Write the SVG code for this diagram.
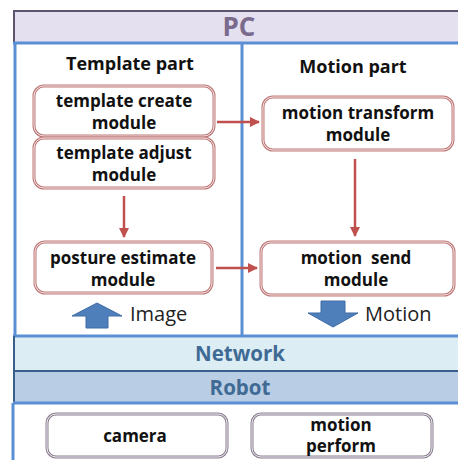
<svg xmlns="http://www.w3.org/2000/svg" width="458" height="460" viewBox="0 0 458 460">
  <style>
    text { font-family: "Open Sans", "DejaVu Sans", sans-serif; font-weight: bold; text-anchor: middle; }
    .mod { font-size: 17px; fill: #111; }
    .title { font-size: 18px; fill: #111; }
    .band { font-size: 20.5px; fill: #3f6a94; }
    .lbl { font-size: 20px; font-weight: normal; fill: #222; text-anchor: start; }
    .box-out { fill: #fff; stroke: #bf7a7a; stroke-width: 3; }
    .box-in { fill: none; stroke: #f6e2e2; stroke-width: 1; }
    .rb-out { fill: #fff; stroke: #8a7f90; stroke-width: 3; }
    .rb-in { fill: none; stroke: #f2eff4; stroke-width: 1; }
    .conn { stroke: #c0504d; stroke-width: 2.5; fill: none; }
    .blk { fill: #4f7fba; stroke: #3e6ca6; stroke-width: 1; }
  </style>
  <defs>
    <marker id="ah" viewBox="0 0 10 10" refX="9" refY="5" markerWidth="4" markerHeight="4" orient="auto">
      <path d="M0,0 L10,5 L0,10 z" fill="#c0504d"/>
    </marker>
  </defs>

  <rect width="458" height="460" fill="#fff"/>

  <!-- PC header -->
  <g id="pc">
    <rect x="13" y="10" width="460" height="33" fill="#e4e0ef"/>
    <line x1="13" y1="11" x2="458" y2="11" stroke="#5c536c" stroke-width="2"/>
    <line x1="14" y1="10" x2="14" y2="43" stroke="#5c536c" stroke-width="2"/>
    <line x1="13" y1="43" x2="458" y2="43" stroke="#5b8fd4" stroke-width="3"/>
    <text x="239" y="36" font-size="26" fill="#7a6b8c">PC</text>
  </g>

  <!-- PC body frame -->
  <g id="pc-frame">
    <line x1="15" y1="43" x2="15" y2="336" stroke="#5b8fd4" stroke-width="3"/>
    <line x1="242" y1="43" x2="242" y2="336" stroke="#5b8fd4" stroke-width="3"/>
    <text class="title" x="130" y="70">Template part</text>
    <text class="title" x="353" y="73">Motion part</text>
  </g>

  <!-- Network band -->
  <g id="network">
    <rect x="13" y="335" width="460" height="36" fill="#dcedf4"/>
    <line x1="13" y1="336" x2="458" y2="336" stroke="#5b8fd4" stroke-width="3"/>
    <line x1="14" y1="336" x2="14" y2="372" stroke="#3a5e8c" stroke-width="2"/>
    <line x1="13" y1="371" x2="458" y2="371" stroke="#3a5e8c" stroke-width="2"/>
    <text class="band" x="240" y="361">Network</text>
  </g>

  <!-- Robot band -->
  <g id="robot">
    <rect x="13" y="372" width="460" height="31" fill="#b9cde4"/>
    <line x1="14" y1="372" x2="14" y2="403" stroke="#3a5e8c" stroke-width="2"/>
    <line x1="13" y1="403" x2="458" y2="403" stroke="#5b8fd4" stroke-width="3"/>
    <line x1="13" y1="403" x2="13" y2="460" stroke="#5b8fd4" stroke-width="3"/>
    <text class="band" x="240" y="395">Robot</text>
  </g>

  <!-- PC modules -->
  <g id="template-create">
    <rect class="box-out" x="34" y="86" width="180" height="50" rx="10"/>
    <rect class="box-in" x="34" y="86" width="180" height="50" rx="10"/>
    <text class="mod" x="124" y="107">template create</text>
    <text class="mod" x="124" y="129">module</text>
  </g>
  <g id="template-adjust">
    <rect class="box-out" x="34" y="138" width="180" height="50" rx="10"/>
    <rect class="box-in" x="34" y="138" width="180" height="50" rx="10"/>
    <text class="mod" x="124" y="159">template adjust</text>
    <text class="mod" x="124" y="181">module</text>
  </g>
  <g id="posture-estimate">
    <rect class="box-out" x="35" y="242" width="177" height="51" rx="10"/>
    <rect class="box-in" x="35" y="242" width="177" height="51" rx="10"/>
    <text class="mod" x="123" y="264">posture estimate</text>
    <text class="mod" x="123" y="286">module</text>
  </g>
  <g id="motion-transform">
    <rect class="box-out" x="263" y="97" width="190" height="53" rx="10"/>
    <rect class="box-in" x="263" y="97" width="190" height="53" rx="10"/>
    <text class="mod" x="358" y="119">motion transform</text>
    <text class="mod" x="358" y="141">module</text>
  </g>
  <g id="motion-send">
    <rect class="box-out" x="261" y="242" width="193" height="53" rx="10"/>
    <rect class="box-in" x="261" y="242" width="193" height="53" rx="10"/>
    <text class="mod" x="356" y="264">motion&#160; send</text>
    <text class="mod" x="356" y="286">module</text>
  </g>

  <!-- data flow block arrows -->
  <g id="image-flow">
    <path class="blk" d="M72,316 L97,303 L122,316 L108,316 L108,328 L86,328 L86,316 z"/>
    <text class="lbl" x="130" y="321">Image</text>
  </g>
  <g id="motion-flow">
    <path class="blk" d="M321,301 L345,301 L345,313 L358,313 L333,327 L308,313 L321,313 z"/>
    <text class="lbl" x="365" y="321">Motion</text>
  </g>

  <!-- Robot modules -->
  <g id="camera">
    <rect class="rb-out" x="47" y="414" width="180" height="43" rx="9"/>
    <rect class="rb-in" x="47" y="414" width="180" height="43" rx="9"/>
    <text class="mod" x="135" y="442">camera</text>
  </g>
  <g id="motion-perform">
    <rect class="rb-out" x="252" y="414" width="180" height="43" rx="9"/>
    <rect class="rb-in" x="252" y="414" width="180" height="43" rx="9"/>
    <text class="mod" x="341" y="431">motion</text>
    <text class="mod" x="341" y="452">perform</text>
  </g>

  <!-- connectors -->
  <g id="connectors">
    <line class="conn" x1="217" y1="122" x2="259" y2="122" marker-end="url(#ah)"/>
    <line class="conn" x1="124" y1="196" x2="124" y2="237" marker-end="url(#ah)"/>
    <line class="conn" x1="355" y1="159" x2="355" y2="236" marker-end="url(#ah)"/>
    <line class="conn" x1="216" y1="268" x2="257" y2="268" marker-end="url(#ah)"/>
  </g>
</svg>
